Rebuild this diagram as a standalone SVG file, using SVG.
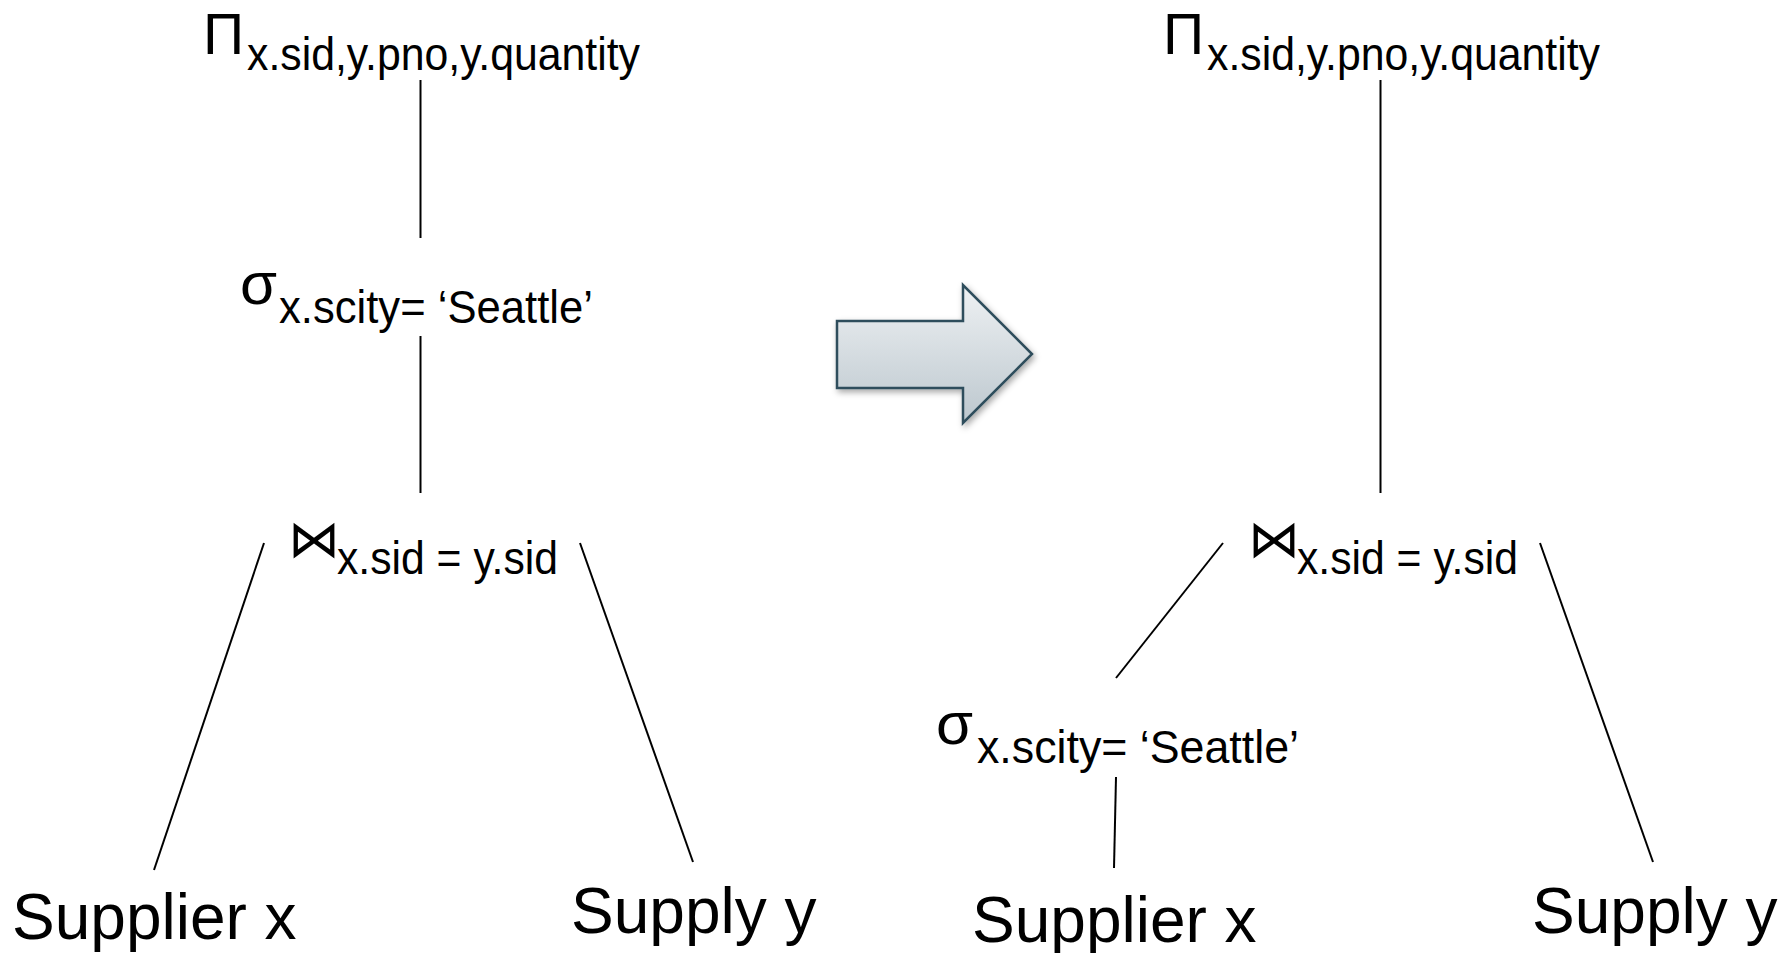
<svg xmlns="http://www.w3.org/2000/svg" width="1791" height="953" viewBox="0 0 1791 953">
<style>
text{font-family:"Liberation Sans",Arial,sans-serif;fill:#000}
.op{font-size:57px}
.sig{font-size:60px}
.sub{font-size:47px}
.rel{font-size:64px}
.bow{font-family:"DejaVu Sans",sans-serif;font-size:52px}
.edge{stroke:#000;stroke-width:2;fill:none}
</style>
<defs>
<linearGradient id="ag" x1="0" y1="0" x2="0" y2="1">
<stop offset="0" stop-color="#eef1f3"/>
<stop offset="1" stop-color="#bcc7ce"/>
</linearGradient>
<filter id="sh" x="-20%" y="-20%" width="150%" height="150%">
<feDropShadow dx="2" dy="3" stdDeviation="3" flood-color="#000" flood-opacity="0.35"/>
</filter>
</defs>
<rect width="1791" height="953" fill="#fff"/>
<g id="connectors">
<line class="edge" x1="420.5" y1="80" x2="420.5" y2="238"/>
<line class="edge" x1="420.5" y1="336" x2="420.5" y2="493"/>
<line class="edge" x1="264" y1="543" x2="154" y2="870"/>
<line class="edge" x1="580" y1="543" x2="693" y2="862"/>
<line class="edge" x1="1380.5" y1="80" x2="1380.5" y2="493"/>
<line class="edge" x1="1223" y1="543" x2="1116" y2="678"/>
<line class="edge" x1="1116" y1="777" x2="1114" y2="868"/>
<line class="edge" x1="1540" y1="543" x2="1653" y2="862"/>
</g>
<g id="transform-arrow">
<path d="M837,321 L963,321 L963,285 L1032,354 L963,423 L963,388 L837,388 Z" fill="url(#ag)" stroke="#2d4d5b" stroke-width="2.5" stroke-linejoin="miter" filter="url(#sh)"/>
</g>
<g id="left-project">
<text class="op" x="203" y="54">Π</text>
<text class="sub" x="247" y="70" textLength="393" lengthAdjust="spacingAndGlyphs">x.sid,y.pno,y.quantity</text>
</g>
<g id="left-select">
<text class="sig" x="240" y="304">σ</text>
<text class="sub" x="279" y="323" textLength="314" lengthAdjust="spacingAndGlyphs">x.scity= ‘Seattle’</text>
</g>
<g id="left-join">
<text class="bow" x="288" y="557">⋈</text>
<text class="sub" x="337" y="574" textLength="221" lengthAdjust="spacingAndGlyphs">x.sid = y.sid</text>
</g>
<g id="left-supplier">
<text class="rel" x="12" y="939">Supplier x</text>
</g>
<g id="left-supply">
<text class="rel" x="571" y="933">Supply y</text>
</g>
<g id="right-project">
<text class="op" x="1163" y="54">Π</text>
<text class="sub" x="1207" y="70" textLength="393" lengthAdjust="spacingAndGlyphs">x.sid,y.pno,y.quantity</text>
</g>
<g id="right-join">
<text class="bow" x="1248" y="557">⋈</text>
<text class="sub" x="1297" y="574" textLength="221" lengthAdjust="spacingAndGlyphs">x.sid = y.sid</text>
</g>
<g id="right-select">
<text class="sig" x="936" y="744">σ</text>
<text class="sub" x="977" y="763" textLength="322" lengthAdjust="spacingAndGlyphs">x.scity= ‘Seattle’</text>
</g>
<g id="right-supplier">
<text class="rel" x="972" y="942">Supplier x</text>
</g>
<g id="right-supply">
<text class="rel" x="1532" y="933">Supply y</text>
</g>
</svg>
